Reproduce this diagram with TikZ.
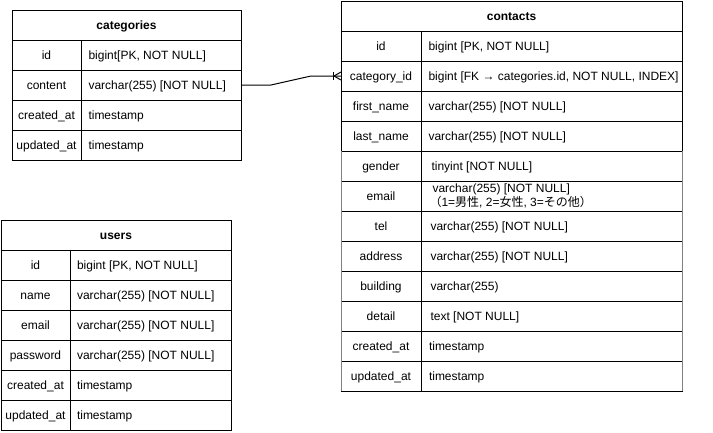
\documentclass[tikz,border=0pt]{standalone}
\usepackage{fontspec}
\setmainfont{Liberation Sans}
\newfontfamily\cjk{Noto Sans CJK JP}
\tikzset{
  cellfont/.style={font=\fontsize{12pt}{14pt}\selectfont},
  cell/.style={draw=black, line width=1pt, rectangle, anchor=north west, inner sep=0pt, outer sep=0pt,
    minimum height=30pt, cellfont, text height=10pt, text depth=2pt},
  hdr/.style={cell, font=\fontsize{12pt}{14pt}\selectfont\bfseries},
  celltext/.style={anchor=west, inner sep=0pt, outer sep=0pt, cellfont, text height=10pt, text depth=2pt},
  twoline/.style={anchor=west, inner sep=0pt, outer sep=0pt, align=left, font=\fontsize{12pt}{10pt}\selectfont},
  rel/.style={draw=black, line width=1pt},
  edgegray/.style={draw=black!50, line width=1pt},
}
% #1 name, #2 top, #3 x0, #4 x1, #5 x2, #6 key, #7 type, #8 text offset
\newcommand\erow[8]{%
  \node[cell, minimum width={(#4-#3)*1pt}] (#1k) at (#3,-#2) {#6};
  \node[cell, minimum width={(#5-#4)*1pt}] (#1t) at (#4,-#2) {};
  \node[celltext] (#1x) at ([xshift=#8pt]#1t.west) {#7};
}
\begin{document}
\begin{tikzpicture}[x=1pt,y=1pt]
\useasboundingbox[fill=white] (0,0) rectangle (713,-432);

% categories
\node[hdr, minimum width=229pt] (cat) at (12,-10) {categories};
\erow{cata}{40}{12}{81}{241}{id}{bigint[PK, NOT NULL]}{7.5}
\erow{catb}{70}{12}{81}{241}{content}{varchar(255) [NOT NULL]}{7.5}
\erow{catc}{100}{12}{81}{241}{created\_at}{timestamp}{7.5}
\erow{catd}{130}{12}{81}{241}{updated\_at}{timestamp}{7.5}

% users
\node[hdr, minimum width=230pt] (usr) at (1,-220) {users};
\erow{usra}{250}{1}{70}{231}{id}{bigint [PK, NOT NULL]}{7}
\erow{usrb}{280}{1}{70}{231}{name}{varchar(255) [NOT NULL]}{7}
\erow{usrc}{310}{1}{70}{231}{email}{varchar(255) [NOT NULL]}{7}
\erow{usrd}{340}{1}{70}{231}{password}{varchar(255) [NOT NULL]}{7}
\erow{usre}{370}{1}{70}{231}{created\_at}{timestamp}{7}
\erow{usrf}{400}{1}{70}{231}{updated\_at}{timestamp}{7}

% contacts
\node[hdr, minimum width=341pt] (con) at (341,-1) {contacts};
\erow{cona}{31}{341}{421}{682}{id}{bigint [PK, NOT NULL]}{7.5}
\erow{conb}{61}{341}{421}{682}{category\_id}{bigint [FK → categories.id, NOT NULL, INDEX]}{7.5}
\erow{conc}{91}{341}{421}{682}{first\_name}{varchar(255) [NOT NULL]}{7.5}
\erow{cond}{121}{341}{421}{682}{last\_name}{varchar(255) [NOT NULL]}{7.5}
\erow{cone}{151}{341}{421}{682}{gender}{tinyint [NOT NULL]}{10.5}
\erow{conf}{181}{341}{421}{682}{email}{}{11.5}
\node[twoline] (confy) at ([xshift=11.5pt]conft.west) {varchar(255) [NOT NULL]\\\hspace*{-3pt}{\cjk （}1={\cjk 男性}, 2={\cjk 女性}, 3={\cjk その他）}};
\erow{cong}{211}{341}{421}{682}{tel}{varchar(255) [NOT NULL]}{9.5}
\erow{conh}{241}{341}{421}{682}{address}{varchar(255) [NOT NULL]}{9.5}
\erow{coni}{271}{341}{421}{682}{building}{varchar(255)}{9.5}
\erow{conj}{301}{341}{421}{682}{detail}{text [NOT NULL]}{9.5}
\erow{conk}{331}{341}{421}{682}{created\_at}{timestamp}{8}
\erow{conl}{361}{341}{421}{682}{updated\_at}{timestamp}{8}
\draw[edgegray] (conek.north west) -- (conlk.south west);
\draw[edgegray] (conet.north east) -- (conlt.south east);

% relation categories.id -> contacts.category_id
\coordinate (b1) at (271,-85);
\coordinate (b2) at (311,-76);
\draw[rel] (catbt.east) -- (b1) -- (b2) -- (conbk.west);
\draw[rel] ([xshift=-8pt,yshift=4pt]conbk.west) -- ([xshift=-8pt,yshift=-4pt]conbk.west);
\draw[rel] ([yshift=4pt]conbk.west) -- ([xshift=-7pt]conbk.west) -- ([yshift=-4pt]conbk.west);
\end{tikzpicture}
\end{document}
